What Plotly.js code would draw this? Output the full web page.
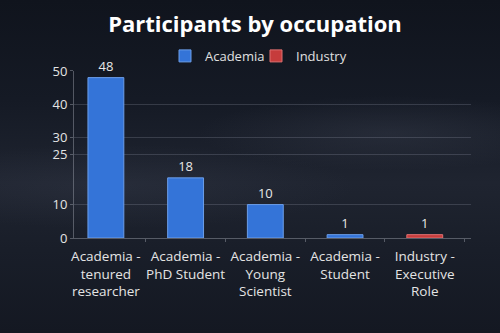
<!DOCTYPE html>
<html>
<head>
<meta charset="utf-8">
<script src="https://cdn.plot.ly/plotly-3.0.1.min.js"></script>
<style>
  html, body { margin: 0; padding: 0; width: 500px; height: 333px; overflow: hidden; }
  body {
    background:
      radial-gradient(ellipse 55% 16% at 78% 40%, rgba(70,76,92,0.28), rgba(0,0,0,0) 70%),
      radial-gradient(ellipse 70% 18% at 22% 56%, rgba(60,66,82,0.28), rgba(0,0,0,0) 70%),
      linear-gradient(to bottom, #10141d 0%, #151a25 30%, #1f2430 55%, #191e29 75%, #141822 100%);
  }
  #chart { width: 500px; height: 333px; }
</style>
</head>
<body>
<div id="chart"></div>
<script>
const categories = [
  "Academia -<br>tenured<br>researcher",
  "Academia -<br>PhD Student",
  "Academia -<br>Young<br>Scientist",
  "Academia -<br>Student",
  "Industry -<br>Executive<br>Role"
];
const academiaCategories = categories.slice(0, 4);
const academiaValues = [48, 18, 10, 1];
const industryCategories = [categories[4]];
const industryValues = [1];
const yTickValues = [0, 10, 25, 30, 40, 50];
const yTickLabels = ["0", "10", "25", "30", "40", "50"];

const font = "'Open Sans', 'Noto Sans', sans-serif";

const traces = [
  {
    type: "bar",
    name: "Academia",
    legend: "legend",
    x: academiaCategories,
    y: academiaValues,
    text: academiaValues.map(String),
    textposition: "outside",
    cliponaxis: false,
    textfont: { color: "#e8e8e8", size: 13, family: font },
    marker: { color: "#3474d8", line: { color: "#6c9ee8", width: 1 } }
  },
  {
    type: "bar",
    name: "Industry",
    legend: "legend2",
    x: industryCategories,
    y: industryValues,
    text: industryValues.map(String),
    textposition: "outside",
    cliponaxis: false,
    textfont: { color: "#e8e8e8", size: 13, family: font },
    marker: { color: "#c63c3c", line: { color: "#de7070", width: 1 } }
  }
];

const legendStyle = {
  orientation: "h",
  xref: "container", yref: "container",
  xanchor: "left",
  y: 0.832, yanchor: "middle",
  font: { family: font, size: 13, color: "#e0e0e0" },
  bgcolor: "rgba(0,0,0,0)",
  itemwidth: 30
};

const layout = {
  width: 500,
  height: 333,
  paper_bgcolor: "rgba(0,0,0,0)",
  plot_bgcolor: "rgba(0,0,0,0)",
  margin: { l: 74, r: 29, t: 68, b: 95 },
  barmode: "overlay",
  bargap: 0.55,
  font: { family: font, color: "#e0e0e0", size: 13 },
  title: {
    text: "<b>Participants by occupation</b>",
    font: { family: font, size: 22, color: "#ffffff" },
    x: 0.51, xanchor: "center",
    xref: "container", yref: "container",
    y: 0.928, yanchor: "middle"
  },
  showlegend: true,
  legend: Object.assign({}, legendStyle, { x: 0.33 }),
  legend2: Object.assign({}, legendStyle, { x: 0.512 }),
  xaxis: {
    type: "category",
    categoryorder: "array",
    categoryarray: categories,
    range: [-0.4, 4.58],
    tickangle: 0,
    automargin: false,
    showgrid: false,
    showline: true,
    linecolor: "rgba(160,165,175,0.45)",
    linewidth: 1,
    ticks: "outside",
    tickson: "boundaries",
    ticklen: 3,
    ticklabelstandoff: 6,
    tickcolor: "rgba(160,165,175,0.45)",
    tickfont: { family: font, size: 13.5, color: "#e4e4e4" },
    fixedrange: true
  },
  yaxis: {
    range: [0, 50],
    tickmode: "array",
    tickvals: yTickValues,
    ticktext: yTickLabels,
    showgrid: true,
    gridcolor: "rgba(170,175,190,0.22)",
    gridwidth: 1,
    zeroline: false,
    showline: true,
    linecolor: "rgba(160,165,175,0.45)",
    ticks: "outside",
    ticklen: 3,
    tickcolor: "rgba(160,165,175,0.45)",
    tickfont: { family: font, size: 13, color: "#e4e4e4" },
    automargin: false,
    fixedrange: true
  }
};

Plotly.newPlot("chart", traces, layout, { displayModeBar: false, staticPlot: true });
</script>
</body>
</html>
